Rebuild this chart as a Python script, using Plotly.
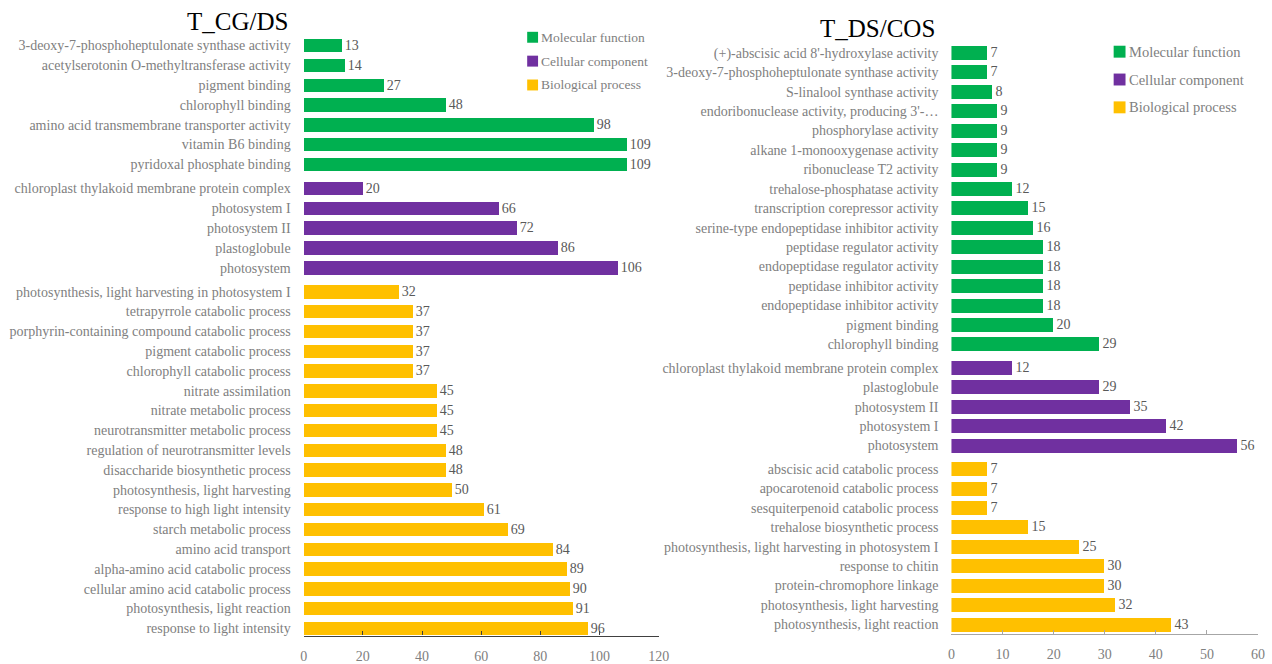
import plotly.graph_objects as go

W, H = 1272, 664

# ---- T_CG/DS ----
cg_mf_terms = ["3-deoxy-7-phosphoheptulonate synthase activity",
               "acetylserotonin O-methyltransferase activity",
               "pigment binding", "chlorophyll binding",
               "amino acid transmembrane transporter activity",
               "vitamin B6 binding", "pyridoxal phosphate binding"]
cg_mf_counts = [13, 14, 27, 48, 98, 109, 109]
cg_cc_terms = ["chloroplast thylakoid membrane protein complex", "photosystem I",
               "photosystem II", "plastoglobule", "photosystem"]
cg_cc_counts = [20, 66, 72, 86, 106]
cg_bp_terms = ["photosynthesis, light harvesting in photosystem I",
               "tetrapyrrole catabolic process",
               "porphyrin-containing compound catabolic process",
               "pigment catabolic process", "chlorophyll catabolic process",
               "nitrate assimilation", "nitrate metabolic process",
               "neurotransmitter metabolic process",
               "regulation of neurotransmitter levels",
               "disaccharide biosynthetic process",
               "photosynthesis, light harvesting",
               "response to high light intensity", "starch metabolic process",
               "amino acid transport", "alpha-amino acid catabolic process",
               "cellular amino acid catabolic process",
               "photosynthesis, light reaction", "response to light intensity"]
cg_bp_counts = [32, 37, 37, 37, 37, 45, 45, 45, 48, 48, 50, 61, 69, 84, 89, 90, 91, 96]

# ---- T_DS/COS ----
ds_mf_terms = ["(+)-abscisic acid 8'-hydroxylase activity",
               "3-deoxy-7-phosphoheptulonate synthase activity",
               "S-linalool synthase activity",
               "endoribonuclease activity, producing 3'-…",
               "phosphorylase activity", "alkane 1-monooxygenase activity",
               "ribonuclease T2 activity", "trehalose-phosphatase activity",
               "transcription corepressor activity",
               "serine-type endopeptidase inhibitor activity",
               "peptidase regulator activity", "endopeptidase regulator activity",
               "peptidase inhibitor activity", "endopeptidase inhibitor activity",
               "pigment binding", "chlorophyll binding"]
ds_mf_counts = [7, 7, 8, 9, 9, 9, 9, 12, 15, 16, 18, 18, 18, 18, 20, 29]
ds_cc_terms = ["chloroplast thylakoid membrane protein complex", "plastoglobule",
               "photosystem II", "photosystem I", "photosystem"]
ds_cc_counts = [12, 29, 35, 42, 56]
ds_bp_terms = ["abscisic acid catabolic process", "apocarotenoid catabolic process",
               "sesquiterpenoid catabolic process", "trehalose biosynthetic process",
               "photosynthesis, light harvesting in photosystem I",
               "response to chitin", "protein-chromophore linkage",
               "photosynthesis, light harvesting", "photosynthesis, light reaction"]
ds_bp_counts = [7, 7, 7, 15, 25, 30, 30, 32, 43]

group_names = ["Molecular function", "Cellular component", "Biological process"]
group_colors = ["#00B050", "#7030A0", "#FFC000"]

SERIF = "Liberation Serif, Times New Roman, serif"
LABEL_GRAY = "#808080"
VALUE_GRAY = "#595959"


def px_x(px):
    return px / W


def px_y(py):
    return 1 - py / H


fig = go.Figure()


def add_panel(groups, xaxis, yaxis, gap, width):
    """Add one bar per GO group; rows stacked top-down with a small gap between groups."""
    tickvals, ticktext = [], []
    row = 0
    for g, (terms, counts) in enumerate(groups):
        pos = [row + i + g * gap for i in range(len(terms))]
        row += len(terms)
        tickvals += pos
        ticktext += terms
        fig.add_trace(go.Bar(
            x=counts, y=pos, orientation="h", width=width,
            marker=dict(color=group_colors[g], line=dict(width=0)),
            text=counts, textposition="outside", cliponaxis=False,
            constraintext="none",
            textfont=dict(family=SERIF, size=14, color=VALUE_GRAY),
            name=group_names[g], showlegend=False,
            xaxis=xaxis, yaxis=yaxis,
        ))
    return tickvals, ticktext


l_vals, l_text = add_panel(
    [(cg_mf_terms, cg_mf_counts), (cg_cc_terms, cg_cc_counts), (cg_bp_terms, cg_bp_counts)],
    "x", "y", 0.22, 0.68)
r_vals, r_text = add_panel(
    [(ds_mf_terms, ds_mf_counts), (ds_cc_terms, ds_cc_counts), (ds_bp_terms, ds_bp_counts)],
    "x2", "y2", 0.21, 0.72)

xcommon = dict(showgrid=False, zeroline=False, showline=True, ticks="inside",
               ticklen=4, tickfont=dict(family=SERIF, size=14, color=LABEL_GRAY),
               ticklabelstandoff=7)
ycommon = dict(showgrid=False, zeroline=False, showline=False, ticks="",
               tickfont=dict(family=SERIF, size=14, color=LABEL_GRAY),
               ticklabelstandoff=12)

fig.update_layout(
    width=W, height=H,
    margin=dict(l=0, r=0, t=0, b=0),
    paper_bgcolor="white", plot_bgcolor="white",
    bargap=0,
    font=dict(family=SERIF),
    xaxis=dict(domain=[px_x(303), px_x(662)], range=[0, 120], dtick=20,
               anchor="y", linecolor="#404040", linewidth=1.3, tickcolor="#404040",
               **xcommon),
    yaxis=dict(domain=[px_y(639.5), px_y(30)], range=[29.81, -0.79],
               tickmode="array", tickvals=l_vals, ticktext=l_text,
               anchor="x", **ycommon),
    xaxis2=dict(domain=[px_x(958), px_x(1268)], range=[0, 60], dtick=10,
                anchor="y2", linecolor="#a6a6a6", linewidth=1, tickcolor="#a6a6a6",
                **xcommon),
    yaxis2=dict(domain=[px_y(638), px_y(30)], range=[29.92, -1.18],
                tickmode="array", tickvals=r_vals, ticktext=r_text,
                anchor="x2", **ycommon),
)

# Panel titles
fig.add_annotation(text="T_CG/DS", x=px_x(289), y=px_y(22), xref="paper", yref="paper",
                   xanchor="right", yanchor="middle", showarrow=False,
                   font=dict(family=SERIF, size=25, color="black"))
fig.add_annotation(text="T_DS/COS", x=px_x(943), y=px_y(29), xref="paper", yref="paper",
                   xanchor="right", yanchor="middle", showarrow=False,
                   font=dict(family=SERIF, size=25, color="black"))


# Legend keys: colour square followed by the group name
def add_key(x0, size, ys, font_size):
    for name, color, yc in zip(group_names, group_colors, ys):
        fig.add_shape(type="rect", xref="paper", yref="paper",
                      x0=px_x(x0), x1=px_x(x0 + size),
                      y0=px_y(yc + size / 2), y1=px_y(yc - size / 2),
                      fillcolor=color, line=dict(width=0))
        fig.add_annotation(text=name, x=px_x(x0 + size + 1), y=px_y(yc),
                           xref="paper", yref="paper", xanchor="left",
                           yanchor="middle", showarrow=False,
                           font=dict(family=SERIF, size=font_size, color=LABEL_GRAY))


add_key(529, 11, [37.5, 61.5, 85.5], 13.5)
add_key(1122, 12, [52, 80, 108], 14.5)

fig.write_html("out.html")
